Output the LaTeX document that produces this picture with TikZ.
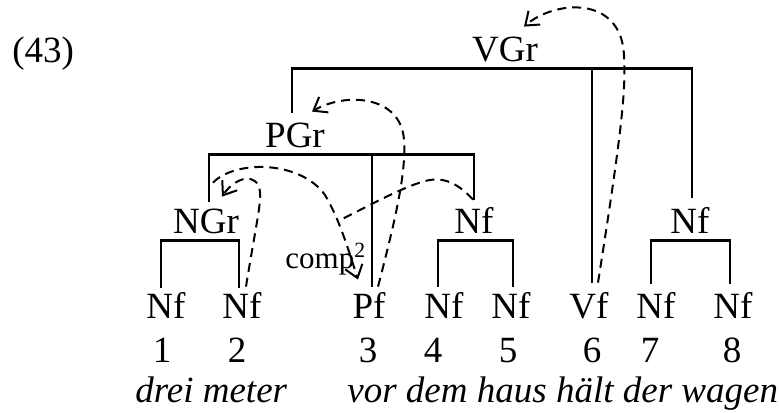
\documentclass[tikz,border=0pt]{standalone}
\usepackage{fontspec}
\setmainfont{Liberation Serif}
\usetikzlibrary{calc,arrows.meta}
\begin{document}
\begin{tikzpicture}[x=0.5pt,y=-0.5pt,
  lab/.style={inner sep=0pt, anchor=base, text height=16pt, text depth=3.5pt, font=\fontsize{18.5}{22}\selectfont},
  plain/.style={inner sep=0pt, anchor=base, font=\fontsize{18.5}{22}\selectfont},
  gloss/.style={inner sep=0pt, anchor=base west, font=\fontsize{18.5}{22}\selectfont\itshape},
  tree/.style={line width=1.15pt},
  dline/.style={dash pattern=on 4.5pt off 3pt, line width=1pt},
  darr/.style={dline, -{Straight Barb[length=6pt,width=9pt,line width=1pt]}}]
\useasboundingbox (0,0) rectangle (779,412);

\node[plain, anchor=base west] (ex) at (12,62) {(43)};

% category labels
\node[lab] (vgr) at (505,61) {VGr};
\node[lab] (pgr) at (295,147) {PGr};
\node[lab] (ngr) at (206,233) {NGr};
\node[lab] (nfm) at (474,233) {Nf};
\node[lab] (nfr) at (690,233) {Nf};
\node[lab] (nf1) at (166,318) {Nf};
\node[lab] (nf2) at (242,318) {Nf};
\node[lab] (pf)  at (369,318) {Pf};
\node[lab] (nf4) at (444,318) {Nf};
\node[lab] (nf5) at (511,318) {Nf};
\node[lab] (vf)  at (589,318) {Vf};
\node[lab] (nf7) at (656,318) {Nf};
\node[lab] (nf8) at (733,318) {Nf};

% numbers
\node[plain] (n1) at (162,362) {1};
\node[plain] (n2) at (237,362) {2};
\node[plain] (n3) at (368,362) {3};
\node[plain] (n4) at (433,362) {4};
\node[plain] (n5) at (508,362) {5};
\node[plain] (n6) at (592,362) {6};
\node[plain] (n7) at (650,362) {7};
\node[plain] (n8) at (732,362) {8};

% glosses
\node[gloss] (g1) at (135,402) {drei meter};
\node[gloss] (g2) at (347,402) {vor dem haus hält der wagen};

% line ends above children
\coordinate (pgrT) at ($(pgr.north)+(-3,-2)$);
\coordinate (nfrT) at ($(nfr.north)+(2,-3)$);
\coordinate (vfT)  at ($(vf.north)+(3,-3)$);
\coordinate (ngrT) at ($(ngr.north)+(3,1)$);
\coordinate (pfT)  at ($(pf.north)+(3,1)$);
\coordinate (nfmT) at ($(nfm.north)+(0,-1)$);
\coordinate (nf1T) at ($(nf1.north)+(-5,2)$);
\coordinate (nf2T) at ($(nf2.north)+(-3,2)$);
\coordinate (nf4T) at ($(nf4.north)+(-6,1)$);
\coordinate (nf5T) at ($(nf5.north)+(2,1)$);
\coordinate (nf7T) at ($(nf7.north)+(-5,-2)$);
\coordinate (nf8T) at ($(nf8.north)+(-3,-2)$);

% tree brackets
\draw[tree] (pgrT) |- (vgr.south) -| (nfrT);
\draw[tree] (vgr.south -| vfT) -- (vfT);
\draw[tree] (ngrT) |- (pgr.south) -| (nfmT);
\draw[tree] (pgr.south -| pfT) -- (pfT);
\draw[tree] (nf1T) |- (ngr.south) -| (nf2T);
\draw[tree] (nf4T) |- (nfm.south) -| (nf5T);
\draw[tree] (nf7T) |- (nfr.south) -| (nf8T);

% dashed dependency arcs
\draw[darr] ($(vf.north)+(9,-3)$) .. controls (622,130) and (626,90) .. (624,55)
   .. controls (621,-5) and (555,0) .. ($(vgr.north)+(19,-2)$);
\draw[darr] ($(pf.north)+(9,1)$) .. controls (398,210) and (406,170) .. (404,140)
   .. controls (401,95) and (345,92) .. ($(pgr.north)+(17,-3)$);
\draw[darr] ($(nf2.north)+(4,1)$) .. controls (256,225) and (261,205) .. (260,192)
   .. controls (258,172) and (236,176) .. ($(ngr.north)+(16,-4)$);
\draw[darr] ($(ngr.north)+(7,-18)$) .. controls (235,160) and (300,160) .. (325,195)
   .. controls (340,220) and (350,255) .. ($(pf.north)+(-11,-6)$);
\coordinate (fend) at (338,221);
\draw[dline] ($(nfm.north)+(-1,-1)$) .. controls (455,180) and (440,177) .. (425,181)
   .. controls (400,188) and (365,208) .. (fend);

\node[inner sep=0pt, anchor=base west, font=\fontsize{15.5}{17}\selectfont] (comp) at (285,268) {comp\textsuperscript{2}};
\end{tikzpicture}
\end{document}
